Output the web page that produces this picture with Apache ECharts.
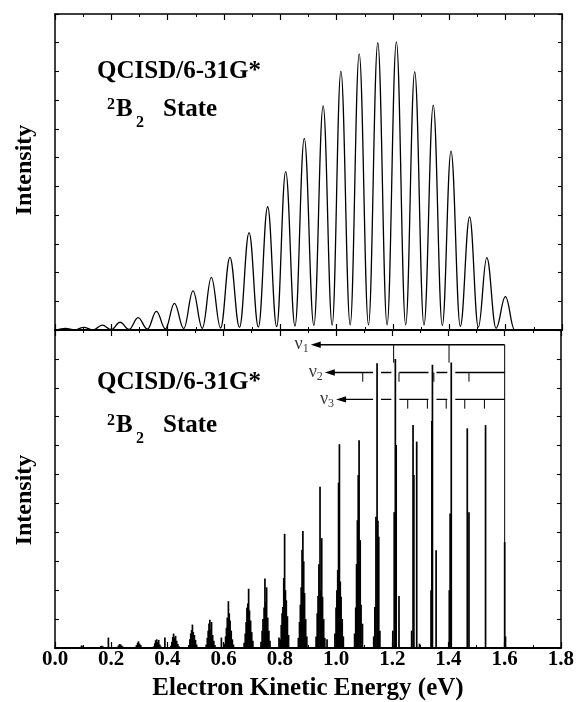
<!DOCTYPE html>
<html>
<head>
<meta charset="utf-8">
<title>Photoelectron spectrum, QCISD/6-31G* 2B2 state</title>
<script src="https://cdn.jsdelivr.net/npm/echarts@6/dist/echarts.min.js"></script>
<style>
  html, body { margin: 0; padding: 0; background: #fff; }
  #chart { width: 577px; height: 702px; }
</style>
</head>
<body>
<div id="chart"></div>
<script>
// ---------- data ----------
const energyTickLabels = ['0.0', '0.2', '0.4', '0.6', '0.8', '1.0', '1.2', '1.4', '1.6', '1.8'];

// Broadened spectrum: band maxima and the minima between them (eV, arb. units)
const peakEnergy = [0.037, 0.102, 0.168, 0.231, 0.295, 0.360, 0.424, 0.490, 0.555, 0.621,
  0.689, 0.755, 0.819, 0.885, 0.952, 1.015, 1.080, 1.146, 1.212, 1.277,
  1.343, 1.406, 1.472, 1.533, 1.599];
const peakIntensity = [0.06, 0.09, 0.17, 0.27, 0.43, 0.65, 0.93, 1.36, 1.83, 2.53,
  3.39, 4.29, 5.51, 6.67, 7.80, 9.01, 9.61, 10.00, 10.03, 8.99,
  7.83, 6.23, 3.94, 2.52, 1.16];
const valleyEnergy = [0.003, 0.070, 0.135, 0.200, 0.263, 0.328, 0.392, 0.457, 0.523, 0.588,
  0.655, 0.722, 0.787, 0.852, 0.919, 0.984, 1.048, 1.113, 1.179, 1.245,
  1.310, 1.375, 1.439, 1.503, 1.566, 1.632];
const valleyIntensity = [0.00, 0.00, 0.00, 0.01, 0.02, 0.03, 0.04, 0.05, 0.06, 0.07,
  0.09, 0.10, 0.12, 0.14, 0.16, 0.17, 0.18, 0.18, 0.18, 0.18,
  0.17, 0.16, 0.13, 0.10, 0.06, 0.00];
const tailEnergy = 1.8;

// Stick spectrum: transition energies (eV) and intensities, grouped by band
const stickEnergy = [
  0.092, 0.095, 0.099,
  0.159, 0.163, 0.167, 0.171, 0.175,
  0.190,
  0.222, 0.226, 0.230, 0.234, 0.238, 0.242,
  0.286, 0.290, 0.294, 0.297, 0.301, 0.305, 0.309,
  0.351, 0.355, 0.358, 0.362, 0.365, 0.369, 0.373, 0.377,
  0.391,
  0.412, 0.416, 0.419, 0.422, 0.426, 0.429, 0.433, 0.437, 0.441,
  0.476, 0.480, 0.483, 0.486, 0.489, 0.492, 0.496, 0.500, 0.504,
  0.538, 0.542, 0.545, 0.548, 0.551, 0.554, 0.557, 0.561, 0.565, 0.569,
  0.592,
  0.603, 0.607, 0.610, 0.613, 0.617, 0.620, 0.623, 0.627, 0.631, 0.635,
  0.673, 0.677, 0.680, 0.683, 0.686, 0.689, 0.692, 0.696, 0.700, 0.704,
  0.733, 0.737, 0.740, 0.744, 0.747, 0.750, 0.753, 0.757, 0.761, 0.765,
  0.797,
  0.801, 0.805, 0.808, 0.811, 0.814, 0.817, 0.820, 0.823, 0.827, 0.831,
  0.866, 0.870, 0.873, 0.876, 0.879, 0.882, 0.885, 0.888, 0.892, 0.896,
  0.929, 0.933, 0.936, 0.939, 0.943, 0.946, 0.949, 0.952, 0.956, 0.960,
  0.968,
  0.996, 1.000, 1.003, 1.006, 1.009, 1.012, 1.015, 1.018, 1.022, 1.026,
  1.066, 1.070, 1.073, 1.076, 1.079, 1.082, 1.086, 1.089, 1.094,
  1.134, 1.138, 1.142, 1.146, 1.149, 1.152, 1.156,
  1.202, 1.207, 1.211, 1.214, 1.224,
  1.269, 1.274, 1.277, 1.287, 1.297,
  1.338, 1.341, 1.343, 1.356,
  1.403, 1.406, 1.410,
  1.467, 1.473,
  1.532,
  1.600, 1.603
];
const stickIntensity = [
  0.04, 0.09, 0.06,
  0.03, 0.07, 0.08, 0.05, 0.02,
  0.36,
  0.04, 0.09, 0.14, 0.12, 0.08, 0.04,
  0.04, 0.10, 0.18, 0.23, 0.15, 0.10, 0.04,
  0.06, 0.16, 0.27, 0.30, 0.20, 0.28, 0.12, 0.05,
  0.36,
  0.08, 0.22, 0.38, 0.50, 0.36, 0.42, 0.25, 0.14, 0.06,
  0.10, 0.30, 0.50, 0.62, 0.81, 0.55, 0.45, 0.28, 0.12,
  0.12, 0.35, 0.60, 0.85, 0.98, 0.65, 0.90, 0.45, 0.25, 0.10,
  0.36,
  0.15, 0.40, 0.70, 1.05, 1.62, 1.20, 0.95, 0.60, 0.30, 0.12,
  0.18, 0.50, 0.90, 1.39, 1.54, 2.05, 1.30, 0.95, 0.55, 0.25,
  0.22, 0.60, 1.00, 1.40, 2.40, 1.60, 2.10, 1.05, 0.60, 0.25,
  0.36,
  0.30, 0.80, 1.20, 1.42, 2.42, 3.95, 2.00, 1.65, 1.10, 0.45,
  0.35, 0.90, 1.50, 2.10, 3.40, 4.05, 3.00, 1.90, 1.00, 0.40,
  0.40, 1.20, 1.80, 2.90, 5.58, 2.00, 3.80, 1.77, 1.00, 0.35,
  0.30,
  0.50, 1.40, 2.00, 2.70, 5.72, 7.05, 2.30, 1.77, 1.00, 0.40,
  0.50, 1.40, 2.90, 4.42, 5.98, 7.19, 3.73, 1.50, 0.84,
  0.40, 1.42, 4.54, 9.85, 4.40, 3.85, 0.60,
  0.60, 4.70, 10.00, 7.02, 1.80,
  0.60, 7.71, 5.98, 7.14, 0.15,
  2.00, 7.85, 9.80, 3.38,
  2.00, 4.65, 9.88,
  7.60, 4.70,
  7.71,
  3.66, 0.40
];

// Vibrational progressions drawn from the origin band
const nuSubscripts = ['1', '2', '3'];
const nuOrigin = 1.60;
const nuLevel = [10.49, 9.53, 8.60];
const nuArrowTip = [0.91, 0.96, 1.00];
const nuMarkDepth = [0.62, 0.32, 0.32];
const nu1Marks = [1.402, 1.205];
const nu2Marks = [1.473, 1.348, 1.224, 1.095];
const nu3Marks = [1.528, 1.458, 1.392, 1.325, 1.255];

// ---------- chart ----------
const SERIF = '"Liberation Serif", "Times New Roman", Times, serif';
const INK = '#000';

const curveData = [];
for (let i = 0; i < peakEnergy.length; i++) {
  curveData.push([valleyEnergy[i], valleyIntensity[i]]);
  curveData.push([peakEnergy[i], peakIntensity[i]]);
}
curveData.push([valleyEnergy[peakEnergy.length], valleyIntensity[peakEnergy.length]]);
curveData.push([tailEnergy, 0]);

const stickData = stickEnergy.map((e, i) => [e, stickIntensity[i]]);
const haloData = stickData.filter(d => d[1] > nuLevel[1]);

const markData = [[nuOrigin, 0, nuLevel[0]]];
[nu1Marks, nu2Marks, nu3Marks].forEach((marks, k) => {
  marks.forEach(e => markData.push([e, nuLevel[k] - nuMarkDepth[k], nuLevel[k]]));
});
const bracketData = nuLevel.map((lvl, i) => [nuOrigin, lvl, nuArrowTip[i]]);
const nuLabelData = nuLevel.map((lvl, i) => [nuArrowTip[i], lvl]);

function xAxis(gridIndex, position, withLabels, lineWidth) {
  return {
    type: 'value', gridIndex, position, min: 0, max: 1.8, interval: 0.2,
    axisLine: { show: true, onZero: false, lineStyle: { color: INK, width: lineWidth } },
    axisTick: { show: true, inside: true, length: 6, lineStyle: { color: INK, width: 1.2 } },
    minorTick: { show: true, splitNumber: 2, length: 3, lineStyle: { color: INK, width: 1 } },
    splitLine: { show: false },
    axisLabel: {
      show: withLabels, margin: 1, color: INK,
      fontFamily: SERIF, fontWeight: 'bold', fontSize: 21,
      formatter: v => energyTickLabels[Math.round(v / 0.2)]
    }
  };
}
function yAxis(gridIndex, position) {
  return {
    type: 'value', gridIndex, position, min: 0, max: 11, interval: 1,
    axisLine: { show: true, onZero: false, lineStyle: { color: INK, width: 1.5 } },
    axisTick: { show: true, inside: true, length: 4, lineStyle: { color: INK, width: 1.1 } },
    splitLine: { show: false },
    axisLabel: { show: false }
  };
}

function text(str, x, y, size, extra) {
  return Object.assign({
    type: 'text', x, y, silent: true,
    style: {
      text: str, fill: INK, fontFamily: SERIF, fontWeight: 'bold', fontSize: size,
      align: 'left', verticalAlign: 'middle'
    }
  }, extra || {});
}
function centred(str, x, y, size, rotation) {
  return {
    type: 'text', x, y, rotation: rotation || 0, silent: true,
    style: {
      text: str, fill: INK, fontFamily: SERIF, fontWeight: 'bold', fontSize: size,
      align: 'center', verticalAlign: 'middle'
    }
  };
}

function stateLabel(y, yQ) {
  return [
    text('QCISD/6-31G*', 97, yQ, 25),
    text('2', 107, y - 5, 16),
    text('B', 116, y, 25),
    text('2', 136, y + 13, 16),
    text('State', 163, y, 25)
  ];
}

const option = {
  animation: false,
  backgroundColor: '#fff',
  grid: [
    { left: 55, right: 15, top: 14, height: 316 },
    { left: 55, right: 15, top: 330, height: 318 }
  ],
  xAxis: [
    xAxis(0, 'bottom', false, 2),
    xAxis(0, 'top', false, 1.5),
    xAxis(1, 'bottom', true, 2),
    xAxis(1, 'top', false, 2)
  ],
  yAxis: [
    yAxis(0, 'left'), yAxis(0, 'right'),
    yAxis(1, 'left'), yAxis(1, 'right')
  ],
  series: [
    {
      name: 'broadened', type: 'line', xAxisIndex: 0, yAxisIndex: 0,
      data: curveData, showSymbol: false, symbol: 'none',
      smooth: 0.4, smoothMonotone: 'x',
      lineStyle: { color: INK, width: 1.3 }, z: 3, silent: true
    },
    {
      name: 'progressions', type: 'custom', xAxisIndex: 2, yAxisIndex: 2, z: 2, silent: true,
      data: bracketData,
      renderItem(params, api) {
        const a = api.coord([api.value(0), api.value(1)]);
        const b = api.coord([api.value(2), api.value(1)]);
        return {
          type: 'group',
          children: [
            { type: 'line', shape: { x1: a[0], y1: a[1], x2: b[0] + 6, y2: b[1] },
              style: { stroke: INK, lineWidth: 1.3 } },
            { type: 'polygon', shape: { points: [[b[0], b[1]], [b[0] + 10, b[1] - 3.2], [b[0] + 10, b[1] + 3.2]] },
              style: { fill: INK } }
          ]
        };
      }
    },
    {
      name: 'halo', type: 'custom', xAxisIndex: 2, yAxisIndex: 2, z: 3, silent: true,
      data: haloData,
      renderItem(params, api) {
        const lo = api.coord([api.value(0), nuLevel[2] - 0.3]);
        const hi = api.coord([api.value(0), nuLevel[1] + 0.3]);
        return { type: 'line', shape: { x1: lo[0], y1: lo[1], x2: hi[0], y2: hi[1] },
          style: { stroke: '#fff', lineWidth: 8 } };
      }
    },
    {
      name: 'marks', type: 'custom', xAxisIndex: 2, yAxisIndex: 2, z: 4, silent: true,
      data: markData,
      renderItem(params, api) {
        const lo = api.coord([api.value(0), api.value(1)]);
        const hi = api.coord([api.value(0), api.value(2)]);
        return { type: 'line', shape: { x1: lo[0], y1: lo[1], x2: hi[0], y2: hi[1] },
          style: { stroke: INK, lineWidth: 1 } };
      }
    },
    {
      name: 'sticks', type: 'custom', xAxisIndex: 2, yAxisIndex: 2, z: 5, silent: true,
      data: stickData,
      encode: { x: 0, y: 1 },
      renderItem(params, api) {
        const p0 = api.coord([api.value(0), 0]);
        const p1 = api.coord([api.value(0), api.value(1)]);
        return { type: 'line', shape: { x1: p0[0], y1: p0[1], x2: p1[0], y2: p1[1] },
          style: { stroke: INK, lineWidth: 1.7 } };
      }
    },
    {
      name: 'nu labels', type: 'scatter', xAxisIndex: 2, yAxisIndex: 2, z: 6, silent: true,
      data: nuLabelData, symbolSize: 0,
      label: {
        show: true, position: 'left', distance: 2, color: INK,
        formatter: p => '{n|\u03bd}{s|' + nuSubscripts[p.dataIndex] + '}',
        rich: {
          n: { fontFamily: SERIF, fontSize: 18, color: INK, lineHeight: 20, verticalAlign: 'middle' },
          s: { fontFamily: SERIF, fontSize: 12, color: INK, lineHeight: 12, verticalAlign: 'bottom' }
        }
      }
    }
  ],
  graphic: [
    ...stateLabel(109.5, 71.5),
    ...stateLabel(426, 382.5),
    centred('Intensity', 25, 170, 24, Math.PI / 2),
    centred('Intensity', 25, 500, 24, Math.PI / 2),
    centred('Electron Kinetic Energy (eV)', 308, 689, 25)
  ]
};

const chart = echarts.init(document.getElementById('chart'), null, { renderer: 'canvas' });
chart.setOption(option);
</script>
</body>
</html>
